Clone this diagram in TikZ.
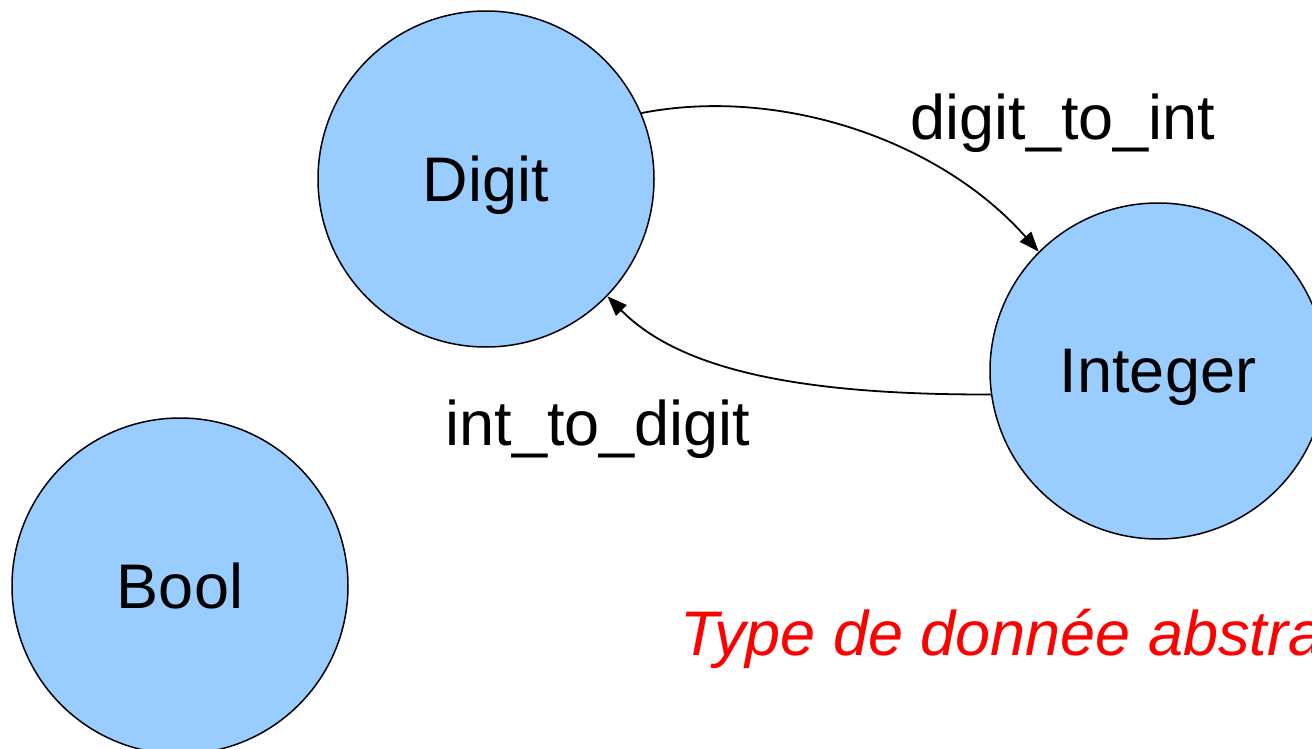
\documentclass[tikz,border=0pt]{standalone}
\usepackage{fontspec}
\setmainfont{Liberation Sans}
\usetikzlibrary{arrows.meta}
\definecolor{nodeblue}{HTML}{99CCFF}
\definecolor{redtxt}{HTML}{FF0000}
\tikzset{
  typenode/.style={circle, draw=black, line width=1.5pt, fill=nodeblue, minimum size=336pt, inner sep=0pt, text depth=0pt, font=\fontsize{63}{70}\selectfont},
  lbl/.style={font=\fontsize{63}{70}\selectfont, inner sep=0pt, anchor=base},
  conn/.style={line width=1.8pt, -{Triangle[length=20pt,width=15pt]}},
}
\begin{document}
\begin{tikzpicture}[x=1pt,y=-1pt]
\useasboundingbox (0,0) rectangle (1312,749);
\clip (0,0) rectangle (1312,749);
\node[typenode] (digit) at (486,179) {Digit};
\node[typenode] (integer) at (1158,371) {Integer};
\node[typenode] (bool) at (180,586) {Bool};
\node[lbl] (l1) at (1063,140) {digit\_to\_int};
\node[lbl] (l2) at (598,445) {int\_to\_digit};
\node[lbl, anchor=base west, text=redtxt, font=\fontsize{63}{70}\selectfont\itshape] (note) at (680,655) {Type de donnée abstraite};
\draw[conn] (digit.23) .. controls (780,86) and (940,140) .. (integer.135);
\draw[conn] (integer.188) .. controls (800,395) and (680,370) .. (digit.-44);
\end{tikzpicture}
\end{document}
